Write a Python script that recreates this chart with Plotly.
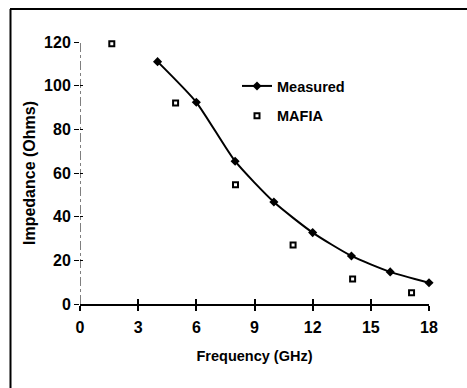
import plotly.graph_objects as go

# Data
measured_freq = [4, 6, 8, 10, 12, 14, 16, 18]
measured_imp = [111, 92.4, 65.4, 46.7, 32.7, 22, 14.7, 9.7]
mafia_freq = [1.64, 4.93, 8.02, 10.99, 14.06, 17.1]
mafia_imp = [119.2, 92.1, 54.6, 27, 11.5, 5.1]
x_ticks = [0, 3, 6, 9, 12, 15, 18]
y_ticks = [0, 20, 40, 60, 80, 100, 120]

FONT = "Liberation Sans, Arial, sans-serif"
W, H = 467, 388
L, R, T, B = 80, 38, 42, 84

fig = go.Figure()
fig.add_trace(go.Scatter(
    x=measured_freq, y=measured_imp, mode="lines+markers", name="Measured",
    line=dict(color="black", width=2, shape="spline", smoothing=0.6),
    marker=dict(symbol="diamond", size=7, color="black"),
    legendgroup="a", cliponaxis=False,
))
fig.add_trace(go.Scatter(
    x=mafia_freq, y=mafia_imp, mode="markers", name="MAFIA",
    marker=dict(symbol="square-open", size=5, color="black", line=dict(width=2, color="black")),
    legendgroup="b", cliponaxis=False,
))

pw = W - L - R
ph = H - T - B
def px_x(p):
    return (p - L) / pw
def px_y(p):
    return (H - B - p) / ph

tickfont = dict(family=FONT, size=16, color="black", weight="bold")
fig.update_layout(
    width=W, height=H,
    margin=dict(l=L, r=R, t=T, b=B, pad=0),
    paper_bgcolor="white", plot_bgcolor="white",
    font=dict(family=FONT, color="black"),
    xaxis=dict(
        range=[0, 18], tickvals=x_ticks, ticks="outside", ticklen=5, tickwidth=1.5,
        tickcolor="black", showline=True, linecolor="black", linewidth=1.5,
        showgrid=False, zeroline=False, tickfont=tickfont, ticklabelstandoff=3,
        title=dict(text="Frequency (GHz)", font=dict(family=FONT, size=14.5, weight="bold"), standoff=16),
    ),
    xaxis2=dict(
        range=[0, 18], tickvals=x_ticks, ticks="inside", ticklen=5, tickwidth=1.5,
        tickcolor="black", showticklabels=False, showgrid=False, zeroline=False,
        overlaying="x", anchor="y", side="bottom",
    ),
    yaxis=dict(
        range=[0, 120], tickvals=y_ticks, ticks="outside", ticklen=5, tickwidth=1.2,
        tickcolor="black", showline=False, showgrid=False, zeroline=False, tickfont=tickfont,
        title=dict(text="Impedance (Ohms)", font=dict(family=FONT, size=16, weight="bold"), standoff=4),
    ),
    yaxis2=dict(
        range=[0, 120], tickvals=y_ticks, ticks="inside", ticklen=3, tickwidth=1.2,
        tickcolor="black", showticklabels=False, showgrid=False, zeroline=False,
        overlaying="y", anchor="x", side="left",
    ),
    showlegend=True,
    legend=dict(
        x=px_x(237), y=px_y(70), xanchor="left", yanchor="top",
        bgcolor="rgba(0,0,0,0)", traceorder="grouped", tracegroupgap=8,
        font=dict(family=FONT, size=14.5, color="black", weight="bold"),
    ),
    shapes=[
        # dash-dot vertical axis line at x=0
        dict(type="line", xref="x", yref="paper", x0=0, x1=0, y0=0, y1=1,
             line=dict(color="black", width=1, dash="dashdot")),
        # outer frame (top and left edges)
        dict(type="line", xref="paper", yref="paper", x0=px_x(10), x1=px_x(467), y0=px_y(9), y1=px_y(9),
             line=dict(color="black", width=2)),
        dict(type="line", xref="paper", yref="paper", x0=px_x(10.5), x1=px_x(10.5), y0=px_y(9), y1=px_y(388),
             line=dict(color="black", width=2)),
    ],
)
# attach the inside-tick axes with an empty trace
fig.add_trace(go.Scatter(x=[], y=[], xaxis="x2", yaxis="y2", showlegend=False))

fig.write_html("out.html")
